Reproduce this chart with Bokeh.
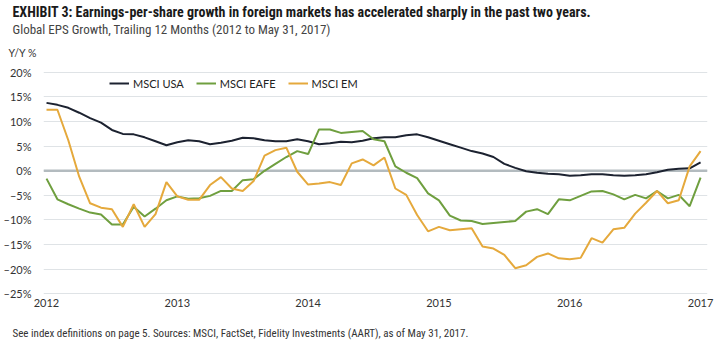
from bokeh.plotting import figure
from bokeh.models import (ColumnDataSource, Legend, LegendItem, Title, FixedTicker, Span)
from bokeh.embed import file_html
from bokeh.resources import INLINE

# ---------------- data (monthly, trailing-12-month EPS growth, %) ----------------
start_year = 2012
usa = [13.8, 13.4, 12.8, 11.8, 10.7, 9.8, 8.3, 7.5, 7.4, 6.8,
       6.0, 5.2, 5.8, 6.2, 6.0, 5.4, 5.7, 6.1, 6.7, 6.6,
       6.2, 6.0, 6.0, 6.4, 6.0, 5.4, 5.6, 5.9, 5.8, 6.1,
       6.6, 6.8, 6.8, 7.2, 7.4, 6.8, 6.1, 5.4, 4.7, 4.0,
       3.5, 2.8, 1.4, 0.6, -0.1, -0.4, -0.6, -0.7, -1.0, -0.9,
       -0.7, -0.7, -0.9, -1.0, -0.9, -0.7, -0.3, 0.2, 0.4, 0.5,
       1.7]
eafe = [-1.6, -5.8, -6.8, -7.7, -8.5, -8.9, -10.9, -10.9, -7.3, -9.3,
        -7.7, -6.0, -5.2, -5.7, -5.6, -5.1, -4.1, -4.1, -1.9, -1.7,
        0.0, 1.4, 2.8, 4.0, 3.4, 8.4, 8.4, 7.7, 7.9, 8.1,
        6.4, 6.0, 0.9, -0.4, -1.5, -4.6, -6.0, -9.1, -10.1, -10.2,
        -10.8, -10.6, -10.4, -10.2, -8.3, -7.8, -8.8, -5.8, -6.0, -5.1,
        -4.2, -4.1, -4.8, -5.8, -4.9, -5.6, -4.1, -5.6, -4.9, -7.2,
        -1.4]
em = [12.4, 12.4, 6.2, -1.2, -6.6, -7.5, -7.8, -11.4, -6.8, -11.4,
      -8.8, -2.3, -5.2, -5.9, -5.9, -2.9, -1.3, -3.6, -4.1, -2.1,
      3.1, 4.2, 4.7, -0.2, -2.8, -2.6, -2.3, -2.9, 1.5, 2.3,
      1.1, 2.7, -3.6, -4.9, -9.0, -12.3, -11.4, -12.1, -11.9, -11.7,
      -15.4, -15.8, -17.1, -19.8, -19.2, -17.5, -16.8, -17.8, -18.0, -17.7,
      -13.7, -14.6, -11.9, -11.6, -8.7, -6.5, -4.1, -6.6, -6.0, 0.9,
      4.0]
months = [start_year + i / 12 for i in range(len(usa))]

series_names = ["MSCI USA", "MSCI EAFE", "MSCI EM"]
series_colors = ["#1c2230", "#6f9f3f", "#e5a93c"]

x_ticks = [2012, 2013, 2014, 2015, 2016, 2017]
x_tick_labels = ["2012", "2013", "2014", "2015", "2016", "2017"]
y_ticks = [20, 15, 10, 5, 0, -5, -10, -15, -20, -25]
y_tick_labels = ["20%", "15%", "10%", "5%", "0%", "\u20135%", "\u201310%", "\u201315%", "\u201320%", "\u201325%"]

title_text = "EXHIBIT 3: Earnings-per-share growth in foreign markets has accelerated sharply in the past two years."
subtitle_text = "Global EPS Growth, Trailing 12 Months (2012 to May 31, 2017)"
yunit_text = "Y/Y %"
footnote_text = "See index definitions on page 5. Sources: MSCI, FactSet, Fidelity Investments (AART), as of May 31, 2017."

NARROW = "Liberation Sans Narrow, Roboto Condensed, Roboto, sans-serif"
AXISF = "Lato, Open Sans, sans-serif"

# ---------------- figure ----------------
p = figure(width=728, height=356, output_backend="svg", toolbar_location=None,
           x_range=(2011.977, 2017.053), y_range=(-25.55, 21.6),
           min_border_left=40, min_border_right=21, min_border_top=64, min_border_bottom=60)
p.outline_line_color = None
p.background_fill_color = "white"
p.border_fill_color = "white"

src = ColumnDataSource(dict(x=months, usa=usa, eafe=eafe, em=em))
r_usa = p.line("x", "usa", source=src, line_color=series_colors[0], line_width=2)
r_eafe = p.line("x", "eafe", source=src, line_color=series_colors[1], line_width=2)
r_em = p.line("x", "em", source=src, line_color=series_colors[2], line_width=2)

zero = Span(location=0, dimension="width", line_color="#b3bbbf", line_width=2.5, level="underlay")
p.add_layout(zero)

# axes
p.xaxis.ticker = FixedTicker(ticks=x_ticks)
p.xaxis.major_label_overrides = dict(zip(x_ticks, x_tick_labels))
p.yaxis.ticker = FixedTicker(ticks=y_ticks)
p.yaxis.major_label_overrides = dict(zip(y_ticks, y_tick_labels))
for ax in (p.xaxis, p.yaxis):
    ax.axis_line_color = None
    ax.major_tick_line_color = None
    ax.minor_tick_line_color = None
    ax.major_label_text_font = AXISF
    ax.major_label_text_font_size = "11px"
    ax.major_label_text_color = "#333333"
p.xaxis.major_label_standoff = -4
p.yaxis.major_label_standoff = 6

p.xgrid.grid_line_color = None
p.ygrid.grid_line_color = "#dfe3e6"
p.ygrid.grid_line_width = 1
p.ygrid.ticker = FixedTicker(ticks=y_ticks)

# legend
legend = Legend(items=[LegendItem(label=series_names[0], renderers=[r_usa]),
                       LegendItem(label=series_names[1], renderers=[r_eafe]),
                       LegendItem(label=series_names[2], renderers=[r_em])],
                orientation="horizontal", location=(66, 204), padding=0, spacing=12,
                glyph_width=20, glyph_height=18, label_standoff=4,
                label_text_font=AXISF, label_text_font_size="11px", label_text_color="#222222",
                border_line_color=None, background_fill_alpha=0)
p.add_layout(legend, "center")

# titles (later-added 'above' titles sit further from the frame)
p.add_layout(Title(text=yunit_text, align="left", offset=-35, standoff=12,
                   text_font=AXISF, text_font_size="10.5px", text_font_style="normal",
                   text_color="#333333"), "above")
p.add_layout(Title(text=subtitle_text, align="left", offset=-31, standoff=3,
                   text_font=NARROW, text_font_size="13px", text_font_style="normal",
                   text_color="#444444"), "above")
p.add_layout(Title(text=title_text, align="left", offset=-31, standoff=-2,
                   text_font=NARROW, text_font_size="14px", text_font_style="bold",
                   text_color="#1a1a1a"), "above")
p.add_layout(Title(text=footnote_text, align="left", offset=-31, standoff=30,
                   vertical_align="bottom",
                   text_font=NARROW, text_font_size="11px", text_font_style="normal",
                   text_color="#333333"), "below")

open("out.html", "w").write(file_html(p, INLINE))
